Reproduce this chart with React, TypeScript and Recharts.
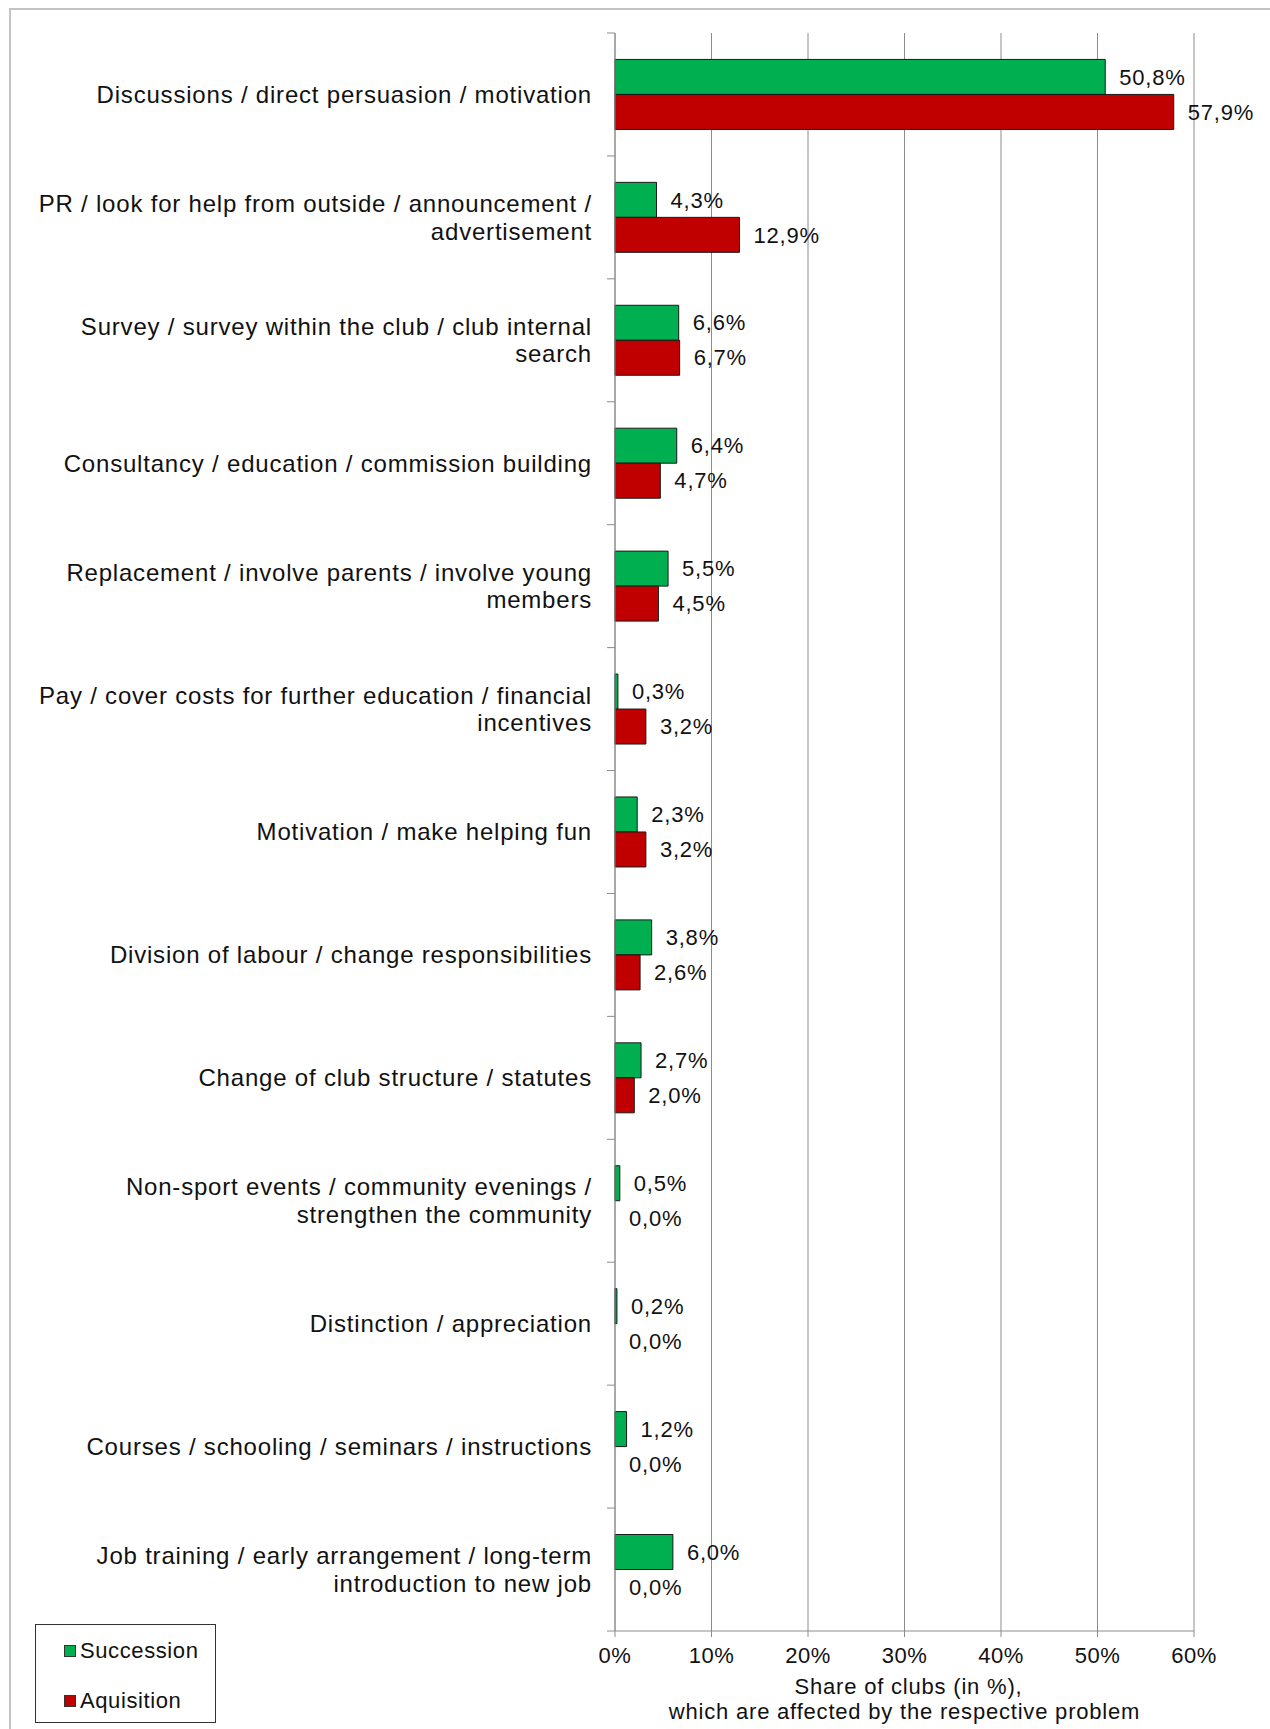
import React from "react";
import {
  Bar,
  BarChart,
  CartesianGrid,
  Cell,
  LabelList,
  Legend,
  XAxis,
  YAxis,
} from "recharts";

const categories = [
  "Discussions / direct persuasion / motivation",
  "PR / look for help from outside / announcement /\nadvertisement",
  "Survey / survey within the club / club internal\nsearch",
  "Consultancy / education / commission building",
  "Replacement / involve parents / involve young\nmembers",
  "Pay / cover costs for further education / financial\nincentives",
  "Motivation / make helping fun",
  "Division of labour / change responsibilities",
  "Change of club structure / statutes",
  "Non-sport events / community evenings /\nstrengthen the community",
  "Distinction / appreciation",
  "Courses / schooling / seminars / instructions",
  "Job training / early arrangement / long-term\nintroduction to new job",
];

const succession = [50.8, 4.3, 6.6, 6.4, 5.5, 0.3, 2.3, 3.8, 2.7, 0.5, 0.2, 1.2, 6.0];
const aquisition = [57.9, 12.9, 6.7, 4.7, 4.5, 3.2, 3.2, 2.6, 2.0, 0.0, 0.0, 0.0, 0.0];

const xTicks = [0, 10, 20, 30, 40, 50, 60];
const seriesOrder = ["succession", "aquisition"];

const data = categories.map((name, i) => ({
  name,
  succession: succession[i],
  aquisition: aquisition[i],
}));

const W = 1270;
const H = 1729;
const TOP = 33;
const X_AXIS_H = 98;
const Y_AXIS_W = 615;
const LABEL_GAP = 23;
const BAND = (H - TOP - X_AXIS_H) / categories.length;

const FONT = "'Liberation Sans', Arial, sans-serif";
const TEXT = "#111";
const GRID = "#8c8c8c";
const GREEN = "#00b050";
const RED = "#c00000";
const EDGE = "#1a1a1a";

const pct = (v: number) => v.toFixed(1).replace(".", ",") + "%";

// zero values still need a (hidden) rectangle so their label gets placed
const keepZero = (v: any) => (Number(v) === 0 ? 0.01 : 0);

function CategoryTick(props: any) {
  const { x, y, payload, index } = props;
  const axisX = x + LABEL_GAP;
  const lines = String(payload.value).split("\n");
  const lh = 27.5;
  const y0 = y - ((lines.length - 1) * lh) / 2;
  return (
    <g>
      <line x1={axisX - 8} x2={axisX} y1={y - BAND / 2} y2={y - BAND / 2} stroke={GRID} />
      {index === categories.length - 1 && (
        <line x1={axisX - 8} x2={axisX} y1={y + BAND / 2} y2={y + BAND / 2} stroke={GRID} />
      )}
      <text
        x={x}
        y={y0}
        textAnchor="end"
        fill={TEXT}
        fontSize={24}
        letterSpacing={0.8}
        fontFamily={FONT}
      >
        {lines.map((l, i) => (
          <tspan key={i} x={x} y={y0 + i * lh} dy="0.35em">
            {l}
          </tspan>
        ))}
      </text>
    </g>
  );
}

function ValueLabel(props: any) {
  const { x, y, width, height, value } = props;
  return (
    <text
      x={Number(x) + Number(width) + 14}
      y={Number(y) + Number(height) / 2}
      dy="0.35em"
      fill={TEXT}
      fontSize={22}
      letterSpacing={0.8}
      fontFamily={FONT}
    >
      {pct(Number(value))}
    </text>
  );
}

function AxisTitle(props: any) {
  const { viewBox } = props;
  const cx = viewBox.x + viewBox.width / 2;
  return (
    <text textAnchor="middle" fill={TEXT} fontSize={22} letterSpacing={0.8} fontFamily={FONT}>
      <tspan x={cx + 4} y={viewBox.y + 63}>
        Share of clubs (in %),
      </tspan>
      <tspan x={cx} y={viewBox.y + 88}>
        which are affected by the respective problem
      </tspan>
    </text>
  );
}

function LegendBox(props: any) {
  const items = [...(props.payload || [])].sort(
    (a: any, b: any) => seriesOrder.indexOf(a.dataKey) - seriesOrder.indexOf(b.dataKey)
  );
  return (
    <div
      style={{
        border: "1px solid #333",
        width: 181,
        height: 99,
        boxSizing: "border-box",
        paddingLeft: 28,
        paddingTop: 7,
        fontFamily: FONT,
        fontSize: 22,
        letterSpacing: 0.6,
        color: TEXT,
      }}
    >
      {items.map((it: any) => (
        <div key={it.value} style={{ display: "flex", alignItems: "center", height: 37, marginBottom: 13 }}>
          <span
            style={{
              width: 10,
              height: 10,
              background: it.color,
              border: "1px solid #333",
              marginRight: 4,
              display: "inline-block",
            }}
          />
          {it.value}
        </div>
      ))}
    </div>
  );
}

export default function App() {
  return (
    <div
      style={{
        position: "absolute",
        left: 0,
        top: 0,
        width: W,
        height: H,
        background: "#fff",
        overflow: "hidden",
      }}
    >
      <div
        style={{
          position: "absolute",
          left: 9,
          top: 8,
          width: W,
          height: H + 20,
          border: "2px solid #c4c4c4",
          boxSizing: "border-box",
        }}
      />
      <BarChart
        width={W}
        height={H}
        data={data}
        layout="vertical"
        margin={{ top: TOP, right: 76, bottom: 0, left: 0 }}
        barCategoryGap="21.5%"
        barGap={0}
        style={{ position: "absolute", left: 0, top: 0 }}
      >
        <CartesianGrid horizontal={false} stroke={GRID} />
        <XAxis
          type="number"
          domain={[0, 60]}
          ticks={xTicks}
          tickFormatter={(v) => v + "%"}
          height={X_AXIS_H}
          tickSize={6}
          tickMargin={10}
          stroke={GRID}
          tick={{ fill: TEXT, fontSize: 22, fontFamily: FONT, letterSpacing: 0.5 }}
          label={<AxisTitle />}
        />
        <YAxis
          type="category"
          dataKey="name"
          width={Y_AXIS_W}
          interval={0}
          tickSize={0}
          tickMargin={LABEL_GAP}
          stroke={GRID}
          tick={<CategoryTick />}
        />
        <Legend
          layout="vertical"
          align="center"
          verticalAlign="middle"
          content={<LegendBox />}
          wrapperStyle={{ left: 35, top: 1624, width: 181, height: 99 }}
        />
        <Bar
          dataKey="succession"
          name="Succession"
          fill={GREEN}
          stroke={EDGE}
          strokeWidth={1}
          minPointSize={keepZero}
          isAnimationActive={false}
        >
          {succession.map((v, i) => (
            <Cell key={i} fill={v === 0 ? "none" : GREEN} stroke={v === 0 ? "none" : EDGE} />
          ))}
          <LabelList dataKey="succession" content={<ValueLabel />} />
        </Bar>
        <Bar
          dataKey="aquisition"
          name="Aquisition"
          fill={RED}
          stroke={EDGE}
          strokeWidth={1}
          minPointSize={keepZero}
          isAnimationActive={false}
        >
          {aquisition.map((v, i) => (
            <Cell key={i} fill={v === 0 ? "none" : RED} stroke={v === 0 ? "none" : EDGE} />
          ))}
          <LabelList dataKey="aquisition" content={<ValueLabel />} />
        </Bar>
      </BarChart>
    </div>
  );
}
